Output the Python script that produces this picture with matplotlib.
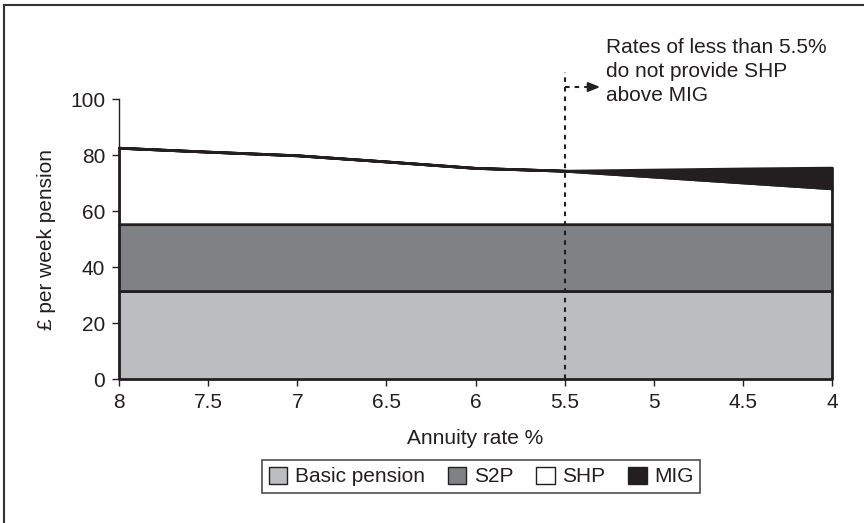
import matplotlib
matplotlib.use('Agg')
import matplotlib.pyplot as plt
from matplotlib.patches import Patch
from matplotlib.lines import Line2D

plt.rcParams['font.family'] = ['Liberation Sans', 'DejaVu Sans']

# Annuity rates and weekly pension components (£)
rates = [8, 7.5, 7, 6.5, 6, 5.5, 5, 4.5, 4]
basic = [31.6] * 9
s2p = [23.8] * 9
shp = [27.3, 25.9, 24.6, 22.4, 20.1, 19.1, 17.0, 14.9, 12.8]
mig = [0, 0, 0, 0, 0, 0, 2.5, 5.0, 7.4]
labels = ['Basic pension', 'S2P', 'SHP', 'MIG']
colors = ['#bcbdc0', '#808184', '#ffffff', '#231f20']

FS = 15
fig = plt.figure(figsize=(8.67, 5.23), dpi=100)
ax = fig.add_axes([0.1373, 0.2748, 0.8223, 0.5353])

polys = ax.stackplot(rates, basic, s2p, shp, mig, colors=colors,
                     edgecolor='#231f20', linewidth=2)
for p in polys:
    p.set_clip_on(False)

ax.set_xlim(8, 4)
ax.set_ylim(0, 100)
ax.set_xticks([8, 7.5, 7, 6.5, 6, 5.5, 5, 4.5, 4])
ax.set_xticklabels(['8', '7.5', '7', '6.5', '6', '5.5', '5', '4.5', '4'])
ax.set_yticks([0, 20, 40, 60, 80, 100])
ax.tick_params(labelsize=FS, length=5, width=1, colors='#231f20', pad=5)
for s in ['top', 'right', 'bottom']:
    ax.spines[s].set_visible(False)
ax.spines['left'].set_color('#231f20')
ax.spines['left'].set_linewidth(1)

ax.set_xlabel('Annuity rate %', fontsize=FS, color='#231f20', labelpad=12)
ax.set_ylabel('£ per week pension', fontsize=FS, color='#231f20', labelpad=10)

# cut-off marker at 5.5% with note
ax.plot([5.5, 5.5], [0, 109.7], color='#231f20', lw=1.5, ls=(0, (2.2, 2.4)),
        clip_on=False, zorder=5)
ax.plot([5.5, 5.36], [104.4, 104.4], color='#231f20', lw=1.5, ls=(0, (2.2, 2.4)),
        clip_on=False, zorder=5)
ax.annotate('', xy=(5.30, 104.4), xytext=(5.37, 104.4),
            arrowprops=dict(arrowstyle='-|>,head_length=0.7,head_width=0.28',
                            color='#231f20', lw=1.5, shrinkA=0, shrinkB=0),
            annotation_clip=False)
ax.text(5.268, 122.0, 'Rates of less than 5.5%\ndo not provide SHP\nabove MIG',
        fontsize=FS, color='#231f20', ha='left', va='top', linespacing=1.35,
        clip_on=False)

handles = [Patch(facecolor=c, edgecolor='#231f20', linewidth=1) for c in colors]
leg = fig.legend(handles, labels, loc='center', bbox_to_anchor=(0.555, 0.089),
                 ncol=4, fontsize=FS, frameon=True, fancybox=False,
                 handlelength=0.9, handleheight=0.9, handletextpad=0.35,
                 columnspacing=1.1, borderpad=0.3)
leg.get_frame().set_edgecolor('#231f20')
leg.get_frame().set_linewidth(1.2)
for t in leg.get_texts():
    t.set_color('#231f20')

# outer frame, top and left edges
fig.add_artist(Line2D([0.005, 0.995], [0.991, 0.991], transform=fig.transFigure,
                      color='#333333', lw=1.5))
fig.add_artist(Line2D([0.005, 0.005], [0.0, 0.991], transform=fig.transFigure,
                      color='#333333', lw=1.5))

fig.savefig('out.png', dpi=100)
